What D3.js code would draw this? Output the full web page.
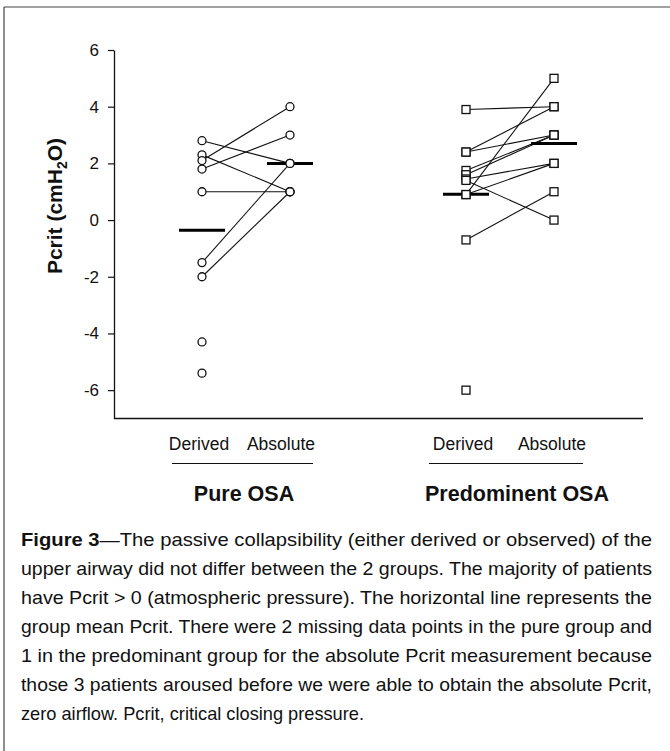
<!DOCTYPE html>
<html>
<head>
<meta charset="utf-8">
<script src="https://cdn.jsdelivr.net/npm/d3@7"></script>
<style>
  body { margin: 0; background: #fff; }
  svg { display: block; }
  text { font-family: "Liberation Sans", Arial, sans-serif; fill: #111; }
</style>
</head>
<body>
<div id="main"></div>
<script>
// data (Pcrit, cmH2O); null = missing absolute value
var groups = ["Pure OSA", "Predominent OSA"];
var columns = ["Derived", "Absolute"];
var pureDerived  = [2.8, 2.3, 2.1, 1.8, 1.0, -1.5, -2.0, -4.3, -5.4];
var pureAbsolute = [2.0, 1.0, 4.0, 3.0, 1.0, 2.0, 1.0, null, null];
var predDerived  = [3.9, 2.4, 2.4, 1.75, 1.6, 1.45, 1.4, 0.9, 0.9, -0.7, -6.0];
var predAbsolute = [4.0, 4.0, 3.0, 3.0, 3.0, 2.0, 0.0, 5.0, 2.0, 1.0, null];
var yTicks = [6, 4, 2, 0, -2, -4, -6];
var caption = [
  ["Figure 3", "\u2014The passive collapsibility (either derived or observed) of the"],
  ["", "upper airway did not differ between the 2 groups. The majority of patients"],
  ["", "have Pcrit > 0 (atmospheric pressure). The horizontal line represents the"],
  ["", "group mean Pcrit. There were 2 missing data points in the pure group and"],
  ["", "1 in the predominant group for the absolute Pcrit measurement because"],
  ["", "those 3 patients aroused before we were able to obtain the absolute Pcrit,"],
  ["", "zero airflow. Pcrit, critical closing pressure."]
];

var width = 670, height = 751;

var svg = d3.select("#main").append("svg")
    .attr("width", width)
    .attr("height", height);

// frame (only top and left edges show)
svg.append("line").attr("x1", 4).attr("y1", 7).attr("x2", width).attr("y2", 7)
    .attr("stroke", "#444").attr("stroke-width", 1.2);
svg.append("line").attr("x1", 4).attr("y1", 7).attr("x2", 4).attr("y2", height)
    .attr("stroke", "#444").attr("stroke-width", 1.2);

// scales
var y = d3.scaleLinear().domain([-7, 6]).range([418.5, 50]);
// slot 0,1 = pure derived/absolute, slot 3,4 = predominant derived/absolute
var x = d3.scaleLinear().domain([0, 4]).range([202, 554]);

// y axis (hyphen minus like the original)
var yAxis = svg.append("g")
    .attr("transform", "translate(114,0)")
    .call(d3.axisLeft(y).tickValues(yTicks).tickSize(6).tickSizeOuter(0).tickPadding(9)
      .tickFormat(function(d) { return String(d); }));
yAxis.select(".domain").attr("stroke", "#111").attr("stroke-width", 1.3);
yAxis.selectAll(".tick line").attr("stroke", "#111").attr("stroke-width", 1.2);
yAxis.selectAll(".tick text").style("font-size", "17px").attr("fill", "#111")
    .style("font-family", "'Liberation Sans', Arial, sans-serif");

// bottom axis line
svg.append("line")
    .attr("x1", 114).attr("x2", 643)
    .attr("y1", y(-7)).attr("y2", y(-7))
    .attr("stroke", "#111").attr("stroke-width", 1.3);

// y title
var yt = svg.append("text")
    .attr("transform", "translate(62," + 206 + ") rotate(-90)")
    .attr("text-anchor", "middle")
    .style("font-size", "21px")
    .style("font-weight", "bold");
yt.append("tspan").text("Pcrit (cmH");
yt.append("tspan").attr("dy", 5).style("font-size", "14px").text("2");
yt.append("tspan").attr("dy", -5).text("O)");

// build pairs
function pairs(der, abs) {
  return der.map(function(d, i) { return {d: d, a: abs[i]}; });
}
var data = [pairs(pureDerived, pureAbsolute), pairs(predDerived, predAbsolute)];
var labelShift = [[-3, -9], [-3, -2]];

data.forEach(function(rows, gi) {
  var x0 = x(gi * 3), x1 = x(gi * 3 + 1);
  var g = svg.append("g");

  // connecting lines
  g.selectAll(".link")
    .data(rows.filter(function(r) { return r.a !== null; }))
    .enter().append("line")
    .attr("x1", x0).attr("y1", function(r) { return y(r.d); })
    .attr("x2", x1).attr("y2", function(r) { return y(r.a); })
    .attr("stroke", "#111").attr("stroke-width", 1.1);

  // mean bars
  var means = [d3.mean(rows, function(r) { return r.d; }),
               d3.mean(rows.filter(function(r) { return r.a !== null; }), function(r) { return r.a; })];
  g.selectAll(".mean")
    .data(means)
    .enter().append("line")
    .attr("x1", function(m, j) { return (j ? x1 : x0) - 23; })
    .attr("x2", function(m, j) { return (j ? x1 : x0) + 23; })
    .attr("y1", function(m) { return y(m); })
    .attr("y2", function(m) { return y(m); })
    .attr("stroke", "#000").attr("stroke-width", 3);

  // markers
  var pts = [];
  rows.forEach(function(r) {
    pts.push({x: x0, v: r.d});
    if (r.a !== null) pts.push({x: x1, v: r.a});
  });
  if (gi === 0) {
    g.selectAll(".pt").data(pts).enter().append("circle")
      .attr("cx", function(p) { return p.x; })
      .attr("cy", function(p) { return y(p.v); })
      .attr("r", 4)
      .attr("fill", "#fff").attr("stroke", "#111").attr("stroke-width", 1.3);
  } else {
    g.selectAll(".pt").data(pts).enter().append("rect")
      .attr("x", function(p) { return p.x - 4; })
      .attr("y", function(p) { return y(p.v) - 4; })
      .attr("width", 8).attr("height", 8)
      .attr("fill", "#fff").attr("stroke", "#111").attr("stroke-width", 1.3);
  }

  // column labels
  columns.forEach(function(c, j) {
    svg.append("text")
      .attr("x", (j ? x1 : x0) + labelShift[gi][j]).attr("y", 450)
      .attr("text-anchor", "middle").style("font-size", "17.5px").text(c);
  });
});

// group underlines and names
var gx = [[172, 313, 244], [429, 583, 517]];
groups.forEach(function(name, gi) {
  svg.append("line")
    .attr("x1", gx[gi][0]).attr("x2", gx[gi][1])
    .attr("y1", 463.5).attr("y2", 463.5)
    .attr("stroke", "#111").attr("stroke-width", 1.2);
  svg.append("text")
    .attr("x", gx[gi][2]).attr("y", 501)
    .attr("text-anchor", "middle")
    .style("font-size", "21.5px").style("font-weight", "bold")
    .text(name);
});

// caption, each line squeezed to its width like the narrow original type
caption.forEach(function(line, i) {
  var last = i === caption.length - 1;
  var t = svg.append("text")
    .attr("x", 21).attr("y", 546 + i * 29)
    .style("font-size", "18.5px")
    .attr("textLength", last ? 343 : 631)
    .attr("lengthAdjust", "spacingAndGlyphs");
  if (line[0]) t.append("tspan").style("font-weight", "bold").text(line[0]);
  t.append("tspan").text(line[1]);
});
</script>
</body>
</html>
